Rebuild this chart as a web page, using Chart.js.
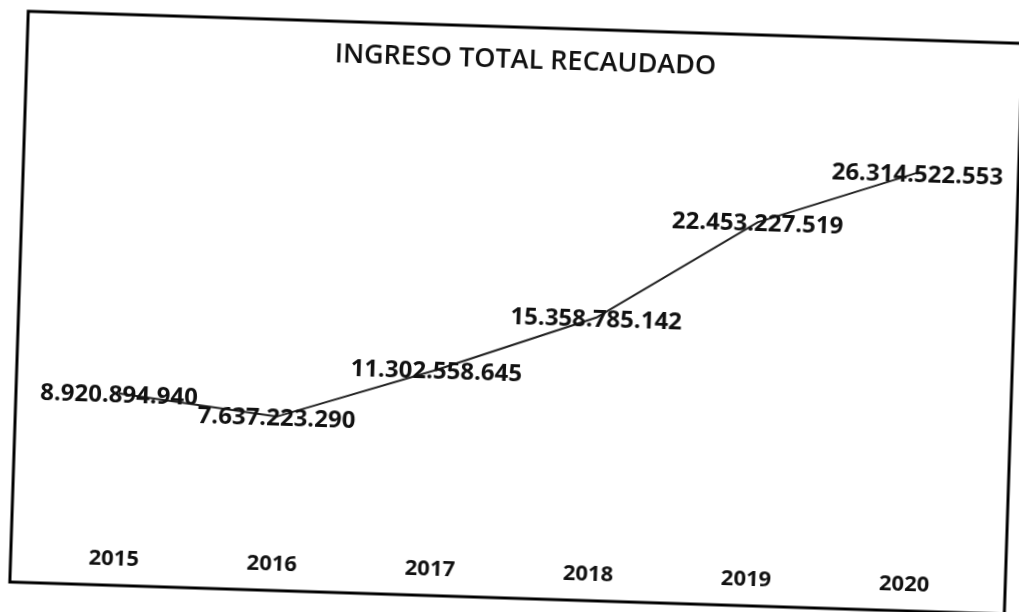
<!DOCTYPE html>
<html>
<head>
<meta charset="utf-8">
<script src="https://cdn.jsdelivr.net/npm/chart.js@4"></script>
<style>
  body { margin: 0; background: #fff; overflow: hidden; }
  #wrap { width: 1019px; height: 612px; position: relative; }
  /* the source is a slightly skewed scan */
  #chart { transform: rotate(1.85deg); transform-origin: 50% 50%; }
</style>
</head>
<body>
<div id="wrap"><canvas id="chart" width="1019" height="612"></canvas></div>
<script>
const years = ['2015', '2016', '2017', '2018', '2019', '2020'];
const ingreso = [8920894940, 7637223290, 11302558645, 15358785142, 22453227519, 26314522553];

// thousands separator is a dot, as in the original
const fmt = (v) => String(v).replace(/\B(?=(\d{3})+(?!\d))/g, '.');

const valueLabels = {
  id: 'valueLabels',
  afterDatasetsDraw(chart) {
    const ctx = chart.ctx;
    const meta = chart.getDatasetMeta(0);
    ctx.save();
    ctx.font = 'bold 24px "Open Sans", sans-serif';
    ctx.fillStyle = '#111';
    ctx.textAlign = 'center';
    ctx.textBaseline = 'middle';
    meta.data.forEach((pt, i) => {
      ctx.fillText(fmt(ingreso[i]), pt.x, pt.y + 2);
    });
    ctx.restore();
  }
};

const frame = {
  id: 'frame',
  afterDraw(chart) {
    const ctx = chart.ctx;
    ctx.save();
    ctx.strokeStyle = '#000';
    ctx.lineWidth = 3;
    ctx.strokeRect(19, 27, 995, 571);
    ctx.restore();
  }
};

new Chart(document.getElementById('chart').getContext('2d'), {
  type: 'line',
  data: {
    labels: years,
    datasets: [{
      label: 'Ingreso total recaudado',
      data: ingreso,
      borderColor: '#222',
      borderWidth: 2,
      pointRadius: 0,
      fill: false,
      tension: 0
    }]
  },
  options: {
    responsive: false,
    animation: false,
    layout: { padding: { left: 43, right: 27, top: 0, bottom: 19 } },
    scales: {
      x: {
        offset: true,
        border: { display: false },
        grid: { display: false, drawTicks: false },
        ticks: {
          color: '#111',
          padding: 8,
          font: { family: '"Open Sans", sans-serif', size: 22, weight: 'bold' }
        }
      },
      y: {
        display: false,
        min: -1300000000,
        max: 29300000000
      }
    },
    plugins: {
      legend: { display: false },
      tooltip: { enabled: false },
      title: {
        display: true,
        text: 'INGRESO TOTAL RECAUDADO',
        color: '#111',
        font: { family: '"Open Sans", sans-serif', size: 27, weight: '600' },
        padding: { top: 44, bottom: 41 }
      }
    }
  },
  plugins: [valueLabels, frame]
});
</script>
</body>
</html>
